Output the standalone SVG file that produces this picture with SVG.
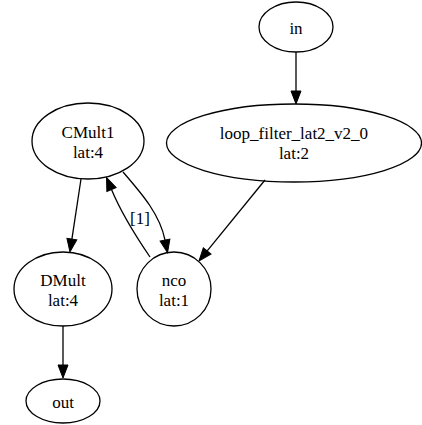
<svg xmlns="http://www.w3.org/2000/svg" width="422" height="425" viewBox="0 0 422 425">
<defs>
<marker id="ah" markerUnits="userSpaceOnUse" markerWidth="14" markerHeight="12" refX="0" refY="5" orient="auto" overflow="visible">
<path d="M0,0 L13,5 L0,10 z" fill="#000" stroke="#000" stroke-width="1"/>
</marker>
</defs>
<rect width="422" height="425" fill="#fff"/>
<g id="edges" fill="none" stroke="#000" stroke-width="1.3" marker-end="url(#ah)">
<path d="M296,52 L296,91"/>
<path d="M265,180 L207.2,250.9"/>
<path d="M81,179 L71.9,239.1"/>
<path d="M123,172 C143,195 160,215 165,240"/>
<path d="M150,257 C135,235 120,210 111.5,189.5"/>
<path d="M63,326 L63,365"/>
</g>
<g id="labels" font-family="Liberation Serif" font-size="17" text-anchor="middle" fill="#000">
<text x="140" y="224">[1]</text>
</g>
<g id="in">
<ellipse cx="296" cy="27" rx="37" ry="25" fill="none" stroke="#000" stroke-width="1.3"/>
<text x="296" y="34" font-family="Liberation Serif" font-size="17" text-anchor="middle">in</text>
</g>
<g id="loop_filter_lat2_v2_0">
<ellipse cx="294" cy="143" rx="127.5" ry="39" fill="none" stroke="#000" stroke-width="1.3"/>
<text x="294" y="139" font-family="Liberation Serif" font-size="17" text-anchor="middle">loop_filter_lat2_v2_0</text>
<text x="294" y="159" font-family="Liberation Serif" font-size="17" text-anchor="middle">lat:2</text>
</g>
<g id="CMult1">
<ellipse cx="88" cy="141" rx="56" ry="38" fill="none" stroke="#000" stroke-width="1.3"/>
<text x="88" y="138" font-family="Liberation Serif" font-size="17" text-anchor="middle">CMult1</text>
<text x="88" y="158" font-family="Liberation Serif" font-size="17" text-anchor="middle">lat:4</text>
</g>
<g id="DMult">
<ellipse cx="63" cy="289" rx="49" ry="37" fill="none" stroke="#000" stroke-width="1.3"/>
<text x="63" y="286" font-family="Liberation Serif" font-size="17" text-anchor="middle">DMult</text>
<text x="63" y="306" font-family="Liberation Serif" font-size="17" text-anchor="middle">lat:4</text>
</g>
<g id="nco">
<circle cx="174" cy="289" r="37" fill="none" stroke="#000" stroke-width="1.3"/>
<text x="174" y="286" font-family="Liberation Serif" font-size="17" text-anchor="middle">nco</text>
<text x="174" y="306" font-family="Liberation Serif" font-size="17" text-anchor="middle">lat:1</text>
</g>
<g id="out">
<ellipse cx="63" cy="401" rx="37" ry="22" fill="none" stroke="#000" stroke-width="1.3"/>
<text x="63" y="408" font-family="Liberation Serif" font-size="17" text-anchor="middle">out</text>
</g>
</svg>
